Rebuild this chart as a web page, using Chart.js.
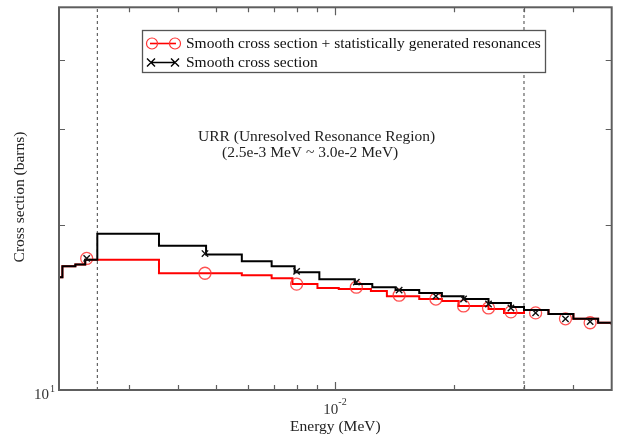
<!DOCTYPE html>
<html>
<head>
<meta charset="utf-8">
<script src="https://cdn.jsdelivr.net/npm/chart.js@4.4.0/dist/chart.umd.min.js"></script>
<style>
  html, body { margin: 0; padding: 0; background: #fff; }
  #wrap { width: 619px; height: 440px; }
</style>
</head>
<body>
<div id="wrap"><canvas id="xsChart"></canvas></div>
<script>
// Smooth cross section: step start energies (MeV) and values (barns)
const smoothEnergy = [2.0e-3, 2.04e-3, 2.20e-3, 2.33e-3, 2.5e-3, 3.58e-3, 4.71e-3, 5.80e-3, 6.90e-3, 7.89e-3,
    9.11e-3, 11.2e-3, 12.4e-3, 14.2e-3, 16.3e-3, 18.6e-3, 21.1e-3, 24.4e-3, 27.8e-3, 30.0e-3,
    34.6e-3, 40.0e-3, 46.2e-3, 50.0e-3];
const smoothXS = [16.07, 16.82, 16.96, 17.3, 19.29, 18.35, 17.68, 17.18, 16.82, 16.41,
    15.94, 15.61, 15.41, 15.22, 15.03, 14.84, 14.66, 14.42, 14.18, 14.00,
    13.77, 13.49, 13.27, 13.16];

// Smooth + statistically generated resonances
const resEnergy = [2.0e-3, 2.04e-3, 2.20e-3, 2.33e-3, 3.58e-3, 5.80e-3, 6.90e-3, 7.79e-3, 9.01e-3, 10.2e-3,
    12.3e-3, 13.5e-3, 16.3e-3, 18.6e-3, 20.5e-3, 24.4e-3, 26.7e-3, 30.0e-3, 34.6e-3, 40.0e-3,
    46.2e-3, 50.0e-3];
const resXS = [16.07, 16.82, 16.96, 17.3, 16.34, 16.21, 16.00, 15.61, 15.35, 15.29,
    15.16, 14.84, 14.66, 14.54, 14.24, 14.06, 13.83, 14.00, 13.77, 13.49,
    13.27, 13.16];

// Marker points
const markerEnergy = [2.35e-3, 4.68e-3, 7.98e-3, 11.3e-3, 14.5e-3, 17.96e-3, 21.1e-3, 24.4e-3, 27.8e-3, 32.1e-3, 38.2e-3, 44.1e-3];
const resMarkerXS = [17.39, 16.34, 15.61, 15.41, 14.90, 14.66, 14.24, 14.12, 13.89, 13.83, 13.49, 13.27];
const smoothMarkerXS = [17.39, 17.75, 16.47, 15.74, 15.22, 14.84, 14.66, 14.36, 14.12, 13.83, 13.49, 13.33];

// URR bounds (MeV)
const urrBounds = [2.5e-3, 3.0e-2];

// Axis ticks
const xMinorTicks = [3e-3, 4e-3, 5e-3, 6e-3, 7e-3, 8e-3, 9e-3, 2e-2, 3e-2, 4e-2];
const xMajorTicks = [1e-2];
const yMinorTicks = [20, 30, 40];
const yMajorTicks = [10];

const legendLabels = ['Smooth cross section + statistically generated resonances', 'Smooth cross section'];

function pts(xs, ys) {
    return xs.map((x, i) => ({ x: x, y: ys[i] }));
}

const FONT = '"Liberation Serif", "Times New Roman", serif';

// frame, ticks, labels, legend, annotation
const framePlugin = {
    id: 'frame',
    afterDraw(chart) {
        const c = chart.ctx;
        const a = chart.chartArea;
        const xs = chart.scales.x, ys = chart.scales.y;
        c.save();

        // box
        c.strokeStyle = '#5e5e5e';
        c.lineWidth = 2;
        c.strokeRect(a.left, a.top, a.right - a.left, a.bottom - a.top);

        // ticks (inward)
        c.lineWidth = 1.2;
        c.beginPath();
        xMinorTicks.concat(xMajorTicks).forEach(v => {
            const px = Math.round(xs.getPixelForValue(v)) + 0.5;
            const len = xMajorTicks.includes(v) ? 8 : 5;
            c.moveTo(px, a.bottom); c.lineTo(px, a.bottom - len);
            c.moveTo(px, a.top); c.lineTo(px, a.top + len);
        });
        yMinorTicks.forEach(v => {
            const py = Math.round(ys.getPixelForValue(v)) + 0.5;
            c.moveTo(a.left, py); c.lineTo(a.left + 6, py);
            c.moveTo(a.right, py); c.lineTo(a.right - 6, py);
        });
        c.stroke();

        // tick labels
        c.fillStyle = '#333';
        c.textBaseline = 'middle';
        xMajorTicks.forEach(v => {
            const px = xs.getPixelForValue(v);
            c.font = '15px ' + FONT;
            c.textAlign = 'right';
            c.fillText('10', px + 3, a.bottom + 20);
            c.font = '10px ' + FONT;
            c.textAlign = 'left';
            c.fillText('-2', px + 3, a.bottom + 12);
        });
        yMajorTicks.forEach(v => {
            const py = ys.getPixelForValue(v);
            c.font = '15px ' + FONT;
            c.textAlign = 'right';
            c.fillText('10', a.left - 10, py + 5);
            c.font = '10px ' + FONT;
            c.textAlign = 'left';
            c.fillText('1', a.left - 9, py - 1);
        });

        // axis titles
        c.font = '15.5px ' + FONT;
        c.textAlign = 'center';
        c.fillStyle = '#222';
        c.fillText('Energy (MeV)', xs.getPixelForValue(1e-2), a.bottom + 37);
        c.save();
        c.translate(20, 197);
        c.rotate(-Math.PI / 2);
        c.fillText('Cross section (barns)', 0, 0);
        c.restore();

        // annotation
        c.textAlign = 'left';
        c.fillText('URR (Unresolved Resonance Region)', 198, 137);
        c.fillText('(2.5e-3 MeV ~ 3.0e-2 MeV)', 222, 153);

        // legend
        c.fillStyle = '#fff';
        c.fillRect(142, 30, 403, 42);
        c.strokeStyle = '#555';
        c.lineWidth = 1.3;
        c.strokeRect(142.5, 30.5, 403, 42);
        // red symbol
        c.strokeStyle = '#ff0000';
        c.lineWidth = 1.6;
        c.beginPath();
        c.moveTo(150, 43.5); c.lineTo(176, 43.5);
        c.stroke();
        c.strokeStyle = '#ff3333';
        c.lineWidth = 1.2;
        [152, 175].forEach(x => {
            c.beginPath();
            c.arc(x, 43.5, 5.5, 0, Math.PI * 2);
            c.stroke();
        });
        // black symbol
        c.strokeStyle = '#000';
        c.lineWidth = 1.4;
        c.beginPath();
        c.moveTo(150, 62.5); c.lineTo(176, 62.5);
        [151, 175].forEach(x => {
            c.moveTo(x - 4, 58.5); c.lineTo(x + 4, 66.5);
            c.moveTo(x - 4, 66.5); c.lineTo(x + 4, 58.5);
        });
        c.stroke();
        c.fillStyle = '#111';
        c.font = '15.5px ' + FONT;
        c.textAlign = 'left';
        c.fillText(legendLabels[0], 186, 44);
        c.fillText(legendLabels[1], 186, 63);

        c.restore();
    }
};

const ctx = document.getElementById('xsChart').getContext('2d');
const xsChart = new Chart(ctx, {
    type: 'line',
    data: {
        datasets: [
            {
                label: 'smooth markers',
                data: pts(markerEnergy, smoothMarkerXS),
                showLine: false,
                pointStyle: 'crossRot',
                pointRadius: 4.5,
                borderColor: '#111',
                borderWidth: 1.4
            },
            {
                label: legendLabels[1],
                data: pts(smoothEnergy, smoothXS),
                stepped: 'before',
                borderColor: '#000',
                borderWidth: 2,
                pointRadius: 0
            },
            {
                label: 'resonance markers',
                data: pts(markerEnergy, resMarkerXS),
                showLine: false,
                pointStyle: 'circle',
                pointRadius: 6,
                borderColor: 'rgba(255,50,50,0.85)',
                backgroundColor: 'rgba(0,0,0,0)',
                borderWidth: 1.3
            },
            {
                label: legendLabels[0],
                data: pts(resEnergy, resXS),
                stepped: 'before',
                borderColor: '#ff0000',
                borderWidth: 2,
                pointRadius: 0
            },
            {
                label: 'URR low',
                data: [{ x: urrBounds[0], y: 10 }, { x: urrBounds[0], y: 50 }],
                borderColor: '#444',
                borderWidth: 1,
                borderDash: [3, 3],
                pointRadius: 0
            },
            {
                label: 'URR high',
                data: [{ x: urrBounds[1], y: 10 }, { x: urrBounds[1], y: 50 }],
                borderColor: '#444',
                borderWidth: 1,
                borderDash: [3, 3],
                pointRadius: 0
            }
        ]
    },
    options: {
        responsive: true,
        maintainAspectRatio: false,
        animation: false,
        layout: { padding: { left: 59, right: 5, top: 3, bottom: 50 } },
        plugins: {
            legend: { display: false },
            tooltip: { enabled: false }
        },
        scales: {
            x: { type: 'logarithmic', min: 2e-3, max: 5e-2, display: false },
            y: { type: 'logarithmic', min: 10, max: 50, display: false }
        }
    },
    plugins: [framePlugin]
});
</script>
</body>
</html>
